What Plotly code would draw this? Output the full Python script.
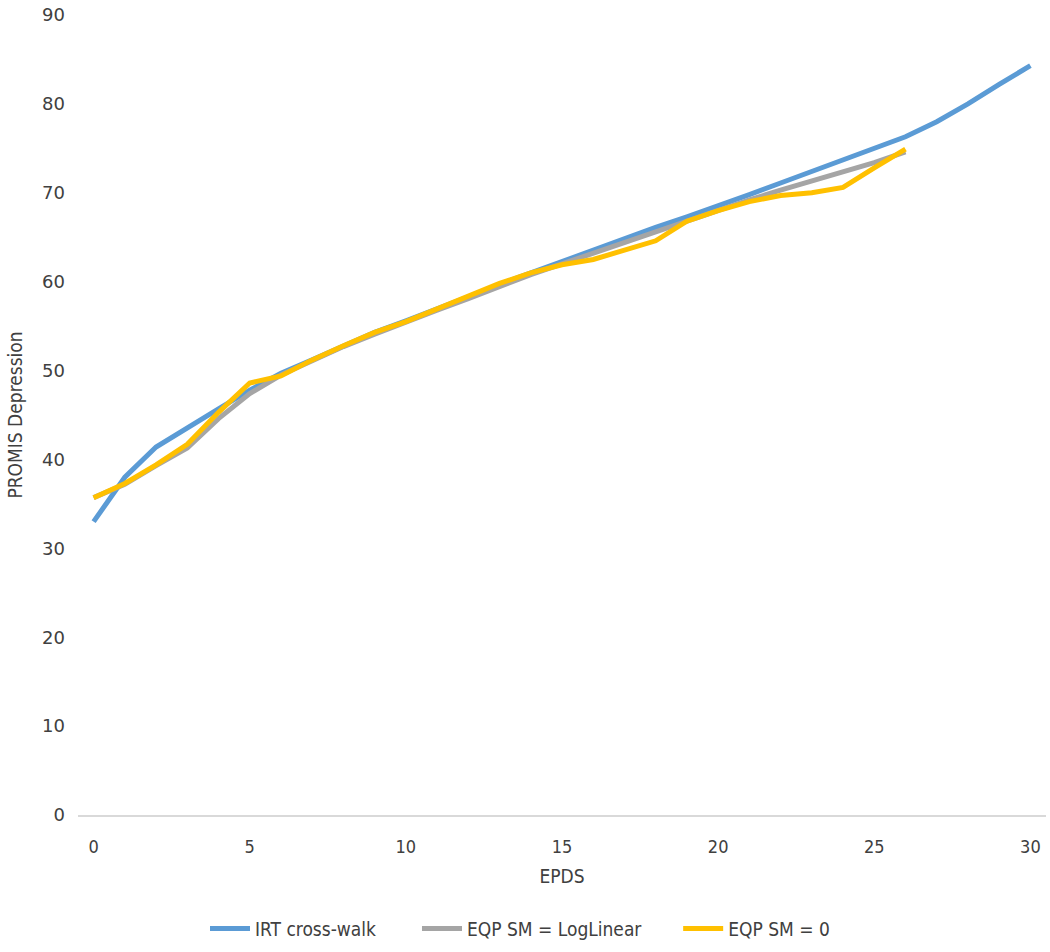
import plotly.graph_objects as go

epds = list(range(0, 31))
irt_crosswalk = [33.0, 38.0, 41.4, 43.6, 45.7, 47.8, 49.7, 51.2, 52.8, 54.3,
                 55.6, 56.9, 58.3, 59.7, 61.0, 62.3, 63.6, 64.9, 66.1, 67.3,
                 68.5, 69.8, 71.1, 72.4, 73.7, 75.0, 76.3, 78.0, 80.0, 82.2, 84.3]
eqp_loglinear = [35.7, 37.2, 39.3, 41.3, 44.6, 47.4, 49.5, 51.1, 52.7, 54.1,
                 55.5, 56.8, 58.1, 59.5, 60.8, 62.0, 63.2, 64.5, 65.6, 66.8,
                 68.0, 69.2, 70.3, 71.3, 72.3, 73.4, 74.6]
eqp_sm0 = [35.7, 37.3, 39.4, 41.7, 45.3, 48.6, 49.4, 51.2, 52.8, 54.3,
           55.5, 56.9, 58.4, 59.8, 61.0, 61.9, 62.5, 63.6, 64.6, 66.8,
           68.0, 69.0, 69.7, 70.0, 70.6, 72.8, 74.9]
x_ticks = [0, 5, 10, 15, 20, 25, 30]
y_ticks = [0, 10, 20, 30, 40, 50, 60, 70, 80, 90]

series = [
    ("IRT cross-walk", irt_crosswalk, "#5B9BD5", "legend"),
    ("EQP SM = LogLinear", eqp_loglinear, "#A5A5A5", "legend2"),
    ("EQP SM = 0", eqp_sm0, "#FFC000", "legend3"),
]

fig = go.Figure()
for name, vals, color, leg in series:
    fig.add_trace(go.Scatter(
        x=epds[:len(vals)], y=vals, mode="lines", name=name,
        line=dict(color=color, width=5), legend=leg,
    ))

narrow = "DejaVu Sans Condensed, Liberation Sans Narrow, Lato, sans-serif"
tick_font = dict(family=narrow, size=18, color="#404040")
leg_font = dict(family=narrow, size=19, color="#404040")


def leg(xpos):
    return dict(orientation="h", x=xpos, xanchor="left", y=-0.142, yanchor="middle",
                font=leg_font, itemwidth=40, bgcolor="rgba(0,0,0,0)")


fig.update_layout(
    width=1050, height=952,
    margin=dict(l=78, r=4, t=15, b=132),
    paper_bgcolor="white", plot_bgcolor="white",
    showlegend=True,
    legend=leg(0.1312),
    legend2=leg(0.3502),
    legend3=leg(0.620),
    xaxis=dict(range=[-0.5, 30.5], tickvals=x_ticks, showgrid=False, zeroline=False,
               showline=True, linecolor="#D9D9D9", linewidth=2,
               ticks="", ticklabelstandoff=14, tickfont=tick_font,
               ticklabeloverflow="allow",
               title=dict(text="EPDS", font=dict(family=narrow, size=19, color="#404040"), standoff=14),
               automargin=False),
    yaxis=dict(range=[0, 90], tickvals=y_ticks, showgrid=False, zeroline=False,
               showline=False, ticks="", ticklabelstandoff=12,
               ticklabeloverflow="allow",
               tickfont=dict(family="DejaVu Sans, sans-serif", size=18, color="#404040"),
               title=dict(text="PROMIS Depression", font=dict(family=narrow, size=19, color="#404040"), standoff=14),
               automargin=False),
)

fig.write_html("out.html", config={"displayModeBar": False},
               post_script="document.body.style.margin='0';")
